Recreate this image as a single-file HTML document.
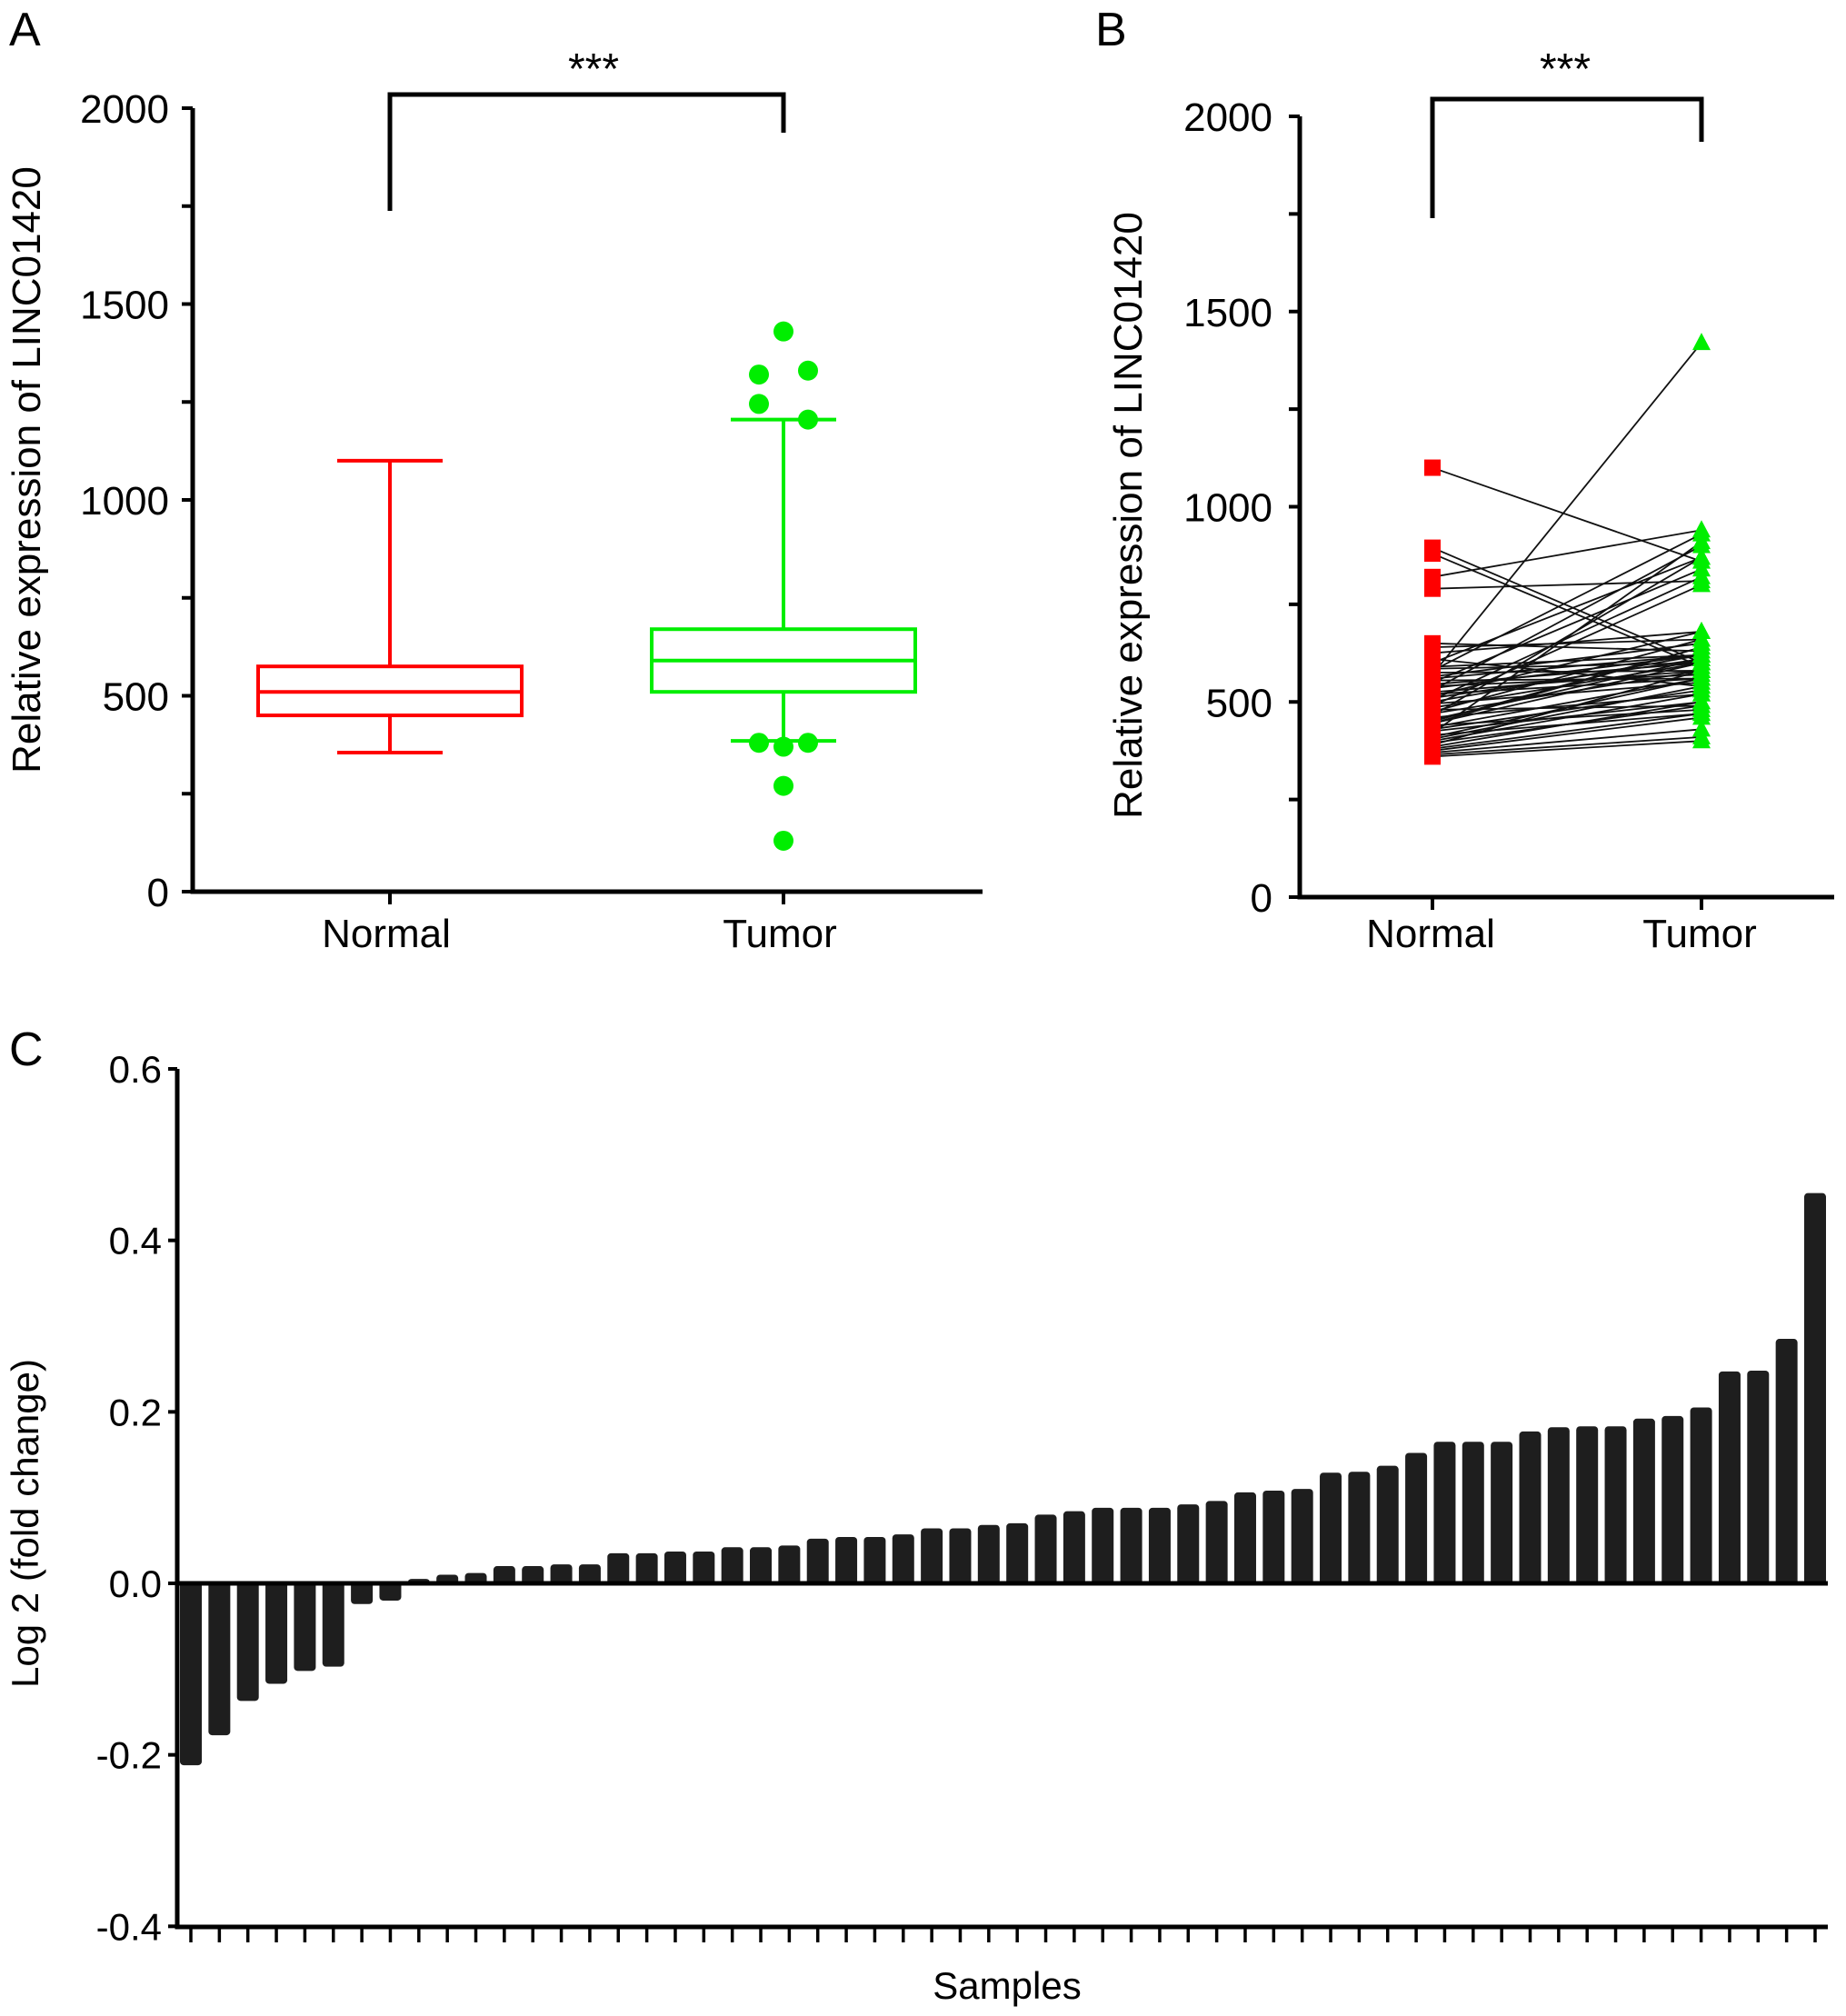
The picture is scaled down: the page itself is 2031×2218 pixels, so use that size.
<!DOCTYPE html>
<html><head><meta charset="utf-8"><style>
html,body{margin:0;padding:0;background:#fff;}
svg{display:block;font-family:"Liberation Sans",Arial,sans-serif;}
</style></head><body>
<svg id="fig" width="2031" height="2218" viewBox="0 0 2031 2218" xmlns="http://www.w3.org/2000/svg">
<rect width="2031" height="2218" fill="#fff"/>
<g id="pa"></g>
<g id="pb"></g>
<g id="pc"></g>
</svg>
<script>
// Panel A box stats
const boxGroups = ["Normal","Tumor"];
const boxMin = [355, 385];
const boxQ1 = [450, 510];
const boxMed = [510, 590];
const boxQ3 = [575, 670];
const boxMax = [1100, 1205];
const tumorOutliers = [1430, 1330, 1320, 1245, 1205, 380, 380, 370, 270, 130];
const tumorOutlierOffset = [0, 1, -1, -1, 1, -1, 1, 0, 0, 0];
const yTicksAB = [0, 500, 1000, 1500, 2000];
// Panel B paired data
const pairNormal = [1100, 895, 880, 820, 790, 650, 640, 625, 610, 600, 590, 585, 580, 575, 570, 565, 560, 555, 550, 545, 540, 535, 530, 525, 520, 515, 510, 505, 500, 495, 490, 485, 480, 475, 470, 465, 460, 455, 450, 445, 440, 435, 430, 425, 420, 415, 410, 405, 400, 395, 390, 385, 380, 375, 370, 365, 360, 445];
const pairTumor = [860, 600, 590, 940, 810, 630, 660, 680, 540, 870, 620, 600, 930, 580, 1420, 650, 620, 560, 840, 600, 570, 620, 900, 580, 560, 680, 610, 820, 620, 550, 800, 600, 490, 660, 580, 870, 520, 610, 640, 600, 480, 560, 530, 500, 910, 470, 560, 540, 520, 490, 580, 500, 470, 460, 430, 410, 400, 640];
// Panel C log2 fold change
const fcValues = [-0.21,-0.175,-0.135,-0.115,-0.1,-0.095,-0.022,-0.018,0.003,0.008,0.01,0.018,0.018,0.02,0.02,0.033,0.033,0.035,0.035,0.04,0.04,0.042,0.05,0.052,0.052,0.055,0.062,0.062,0.066,0.068,0.078,0.082,0.086,0.086,0.086,0.09,0.094,0.104,0.106,0.108,0.127,0.128,0.135,0.15,0.163,0.163,0.163,0.175,0.18,0.181,0.181,0.19,0.193,0.203,0.245,0.246,0.283,0.453];
const yTicksC = [-0.4,-0.2,0.0,0.2,0.4,0.6];

const NS="http://www.w3.org/2000/svg";
function mk(parent,tag,attrs,text){const e=document.createElementNS(NS,tag);for(const k in attrs)e.setAttribute(k,attrs[k]);if(text!==undefined)e.textContent=text;parent.appendChild(e);return e;}

// ---------- Panel A ----------
(function(){
const g=document.getElementById('pa');
const ax=212, y0=981, y1=119, xr=1081;
const ys=v=>y0-(v/2000)*(y0-y1);
const xs=[429,862];
let t;
t=mk(g,'text',{x:10,y:50,'font-size':52});t.textContent='A';


let l=mk(g,'path',{d:`M${ax},${y1} V${y0} H${xr}`,stroke:'#000','stroke-width':5,fill:'none'});


for(let v=0;v<=2000;v+=250){mk(g,'line',{x1:ax-12,x2:ax,y1:ys(v),y2:ys(v),stroke:'#000','stroke-width':4});}
yTicksAB.forEach(v=>{const e=mk(g,'text',{x:186,y:ys(v)+16,'font-size':44,'text-anchor':'end'},String(v));

});
xs.forEach((x,i)=>{mk(g,'line',{x1:x,x2:x,y1:y0,y2:y0+14,stroke:'#000','stroke-width':4});
const e=mk(g,'text',{x:x-4,y:1042,'font-size':44,'text-anchor':'middle'},boxGroups[i]);

});
const ti=mk(g,'text',{transform:`translate(44,517) rotate(-90)`,'font-size':44,'text-anchor':'middle'},'Relative expression of LINC01420');


const cols=['#ff0000','#00ee00'];
xs.forEach((x,i)=>{
 const bg=mk(g,'g',{stroke:cols[i],'stroke-width':4,fill:'none'});
 
 
 const hw=145, cw=58;
 mk(bg,'rect',{x:x-hw,y:ys(boxQ3[i]),width:2*hw,height:ys(boxQ1[i])-ys(boxQ3[i])});
 mk(bg,'line',{x1:x-hw,x2:x+hw,y1:ys(boxMed[i]),y2:ys(boxMed[i])});
 mk(bg,'line',{x1:x,x2:x,y1:ys(boxQ3[i]),y2:ys(boxMax[i])});
 mk(bg,'line',{x1:x,x2:x,y1:ys(boxQ1[i]),y2:ys(boxMin[i])});
 mk(bg,'line',{x1:x-cw,x2:x+cw,y1:ys(boxMax[i]),y2:ys(boxMax[i])});
 mk(bg,'line',{x1:x-cw,x2:x+cw,y1:ys(boxMin[i]),y2:ys(boxMin[i])});
});
tumorOutliers.forEach((v,i)=>{const c=mk(g,'circle',{cx:xs[1]+tumorOutlierOffset[i]*27,cy:ys(v),r:11,fill:'#00ee00'});

});
const br=mk(g,'path',{d:`M${xs[0]},232 V104 H${xs[1]} V146`,stroke:'#000','stroke-width':5,fill:'none'});


const st=mk(g,'text',{x:653,y:92,'font-size':48,'text-anchor':'middle'},'***');


})();

// ---------- Panel B ----------
(function(){
const g=document.getElementById('pb');
const ax=1430, y0=987, y1=128, xr=2018;
const ys=v=>y0-(v/2000)*(y0-y1);
const xs=[1576,1872];
let t=mk(g,'text',{x:1205,y:50,'font-size':52},'B');


let l=mk(g,'path',{d:`M${ax},${y1} V${y0} H${xr}`,stroke:'#000','stroke-width':5,fill:'none'});


for(let v=0;v<=2000;v+=250){mk(g,'line',{x1:ax-12,x2:ax,y1:ys(v),y2:ys(v),stroke:'#000','stroke-width':4});}
yTicksAB.forEach(v=>{const e=mk(g,'text',{x:1400,y:ys(v)+16,'font-size':44,'text-anchor':'end'},String(v));

});
xs.forEach((x,i)=>{mk(g,'line',{x1:x,x2:x,y1:y0,y2:y0+14,stroke:'#000','stroke-width':4});
const e=mk(g,'text',{x:x-2,y:1042,'font-size':44,'text-anchor':'middle'},boxGroups[i]);

});
const ti=mk(g,'text',{transform:`translate(1256,567) rotate(-90)`,'font-size':44,'text-anchor':'middle'},'Relative expression of LINC01420');


pairNormal.forEach((n,i)=>{const e=mk(g,'line',{x1:xs[0],y1:ys(n),x2:xs[1],y2:ys(pairTumor[i]),stroke:'#111','stroke-width':1.8});

});
pairNormal.forEach(n=>{const e=mk(g,'rect',{x:xs[0]-9,y:ys(n)-9,width:18,height:18,fill:'#ff0000'});

});
pairTumor.forEach(v=>{const y=ys(v);const e=mk(g,'polygon',{points:`${xs[1]-10},${y+8} ${xs[1]+10},${y+8} ${xs[1]},${y-11}`,fill:'#00ee00'});

});
const br=mk(g,'path',{d:`M${xs[0]},240 V109 H${xs[1]} V156`,stroke:'#000','stroke-width':5,fill:'none'});


const st=mk(g,'text',{x:1722,y:92,'font-size':48,'text-anchor':'middle'},'***');


})();

// ---------- Panel C ----------
(function(){
const g=document.getElementById('pc');
const ax=195, yTop=1176, yZero=1742, yBot=2120, xr=2011;
const ys=v=>yZero-v*(yZero-yTop)/0.6;
const xStart=210, xEnd=1997, n=fcValues.length;
const xs=i=>xStart+i*(xEnd-xStart)/(n-1);
let t=mk(g,'text',{x:10,y:1172,'font-size':52},'C');


fcValues.forEach((v,i)=>{const y=Math.min(ys(v),yZero),h=Math.abs(ys(v)-yZero);
const e=mk(g,'rect',{x:xs(i)-12,y:y-2,width:24,height:Math.max(h,2)+4,fill:'#1e1e1e',rx:4});

});
const zl=mk(g,'line',{x1:ax,x2:xr,y1:yZero,y2:yZero,stroke:'#000','stroke-width':5});


const axl=mk(g,'path',{d:`M${ax},${yTop} V${yBot} H${xr}`,stroke:'#000','stroke-width':5,fill:'none'});


fcValues.forEach((v,i)=>{mk(g,'line',{x1:xs(i),x2:xs(i),y1:yBot,y2:yBot+17,stroke:'#000','stroke-width':3.5});});
yTicksC.forEach(v=>{mk(g,'line',{x1:ax-10,x2:ax,y1:ys(v),y2:ys(v),stroke:'#000','stroke-width':4});
const e=mk(g,'text',{x:178,y:ys(v)+15,'font-size':42,'text-anchor':'end'},v.toFixed(1));

});
const ti=mk(g,'text',{transform:`translate(42,1676) rotate(-90)`,'font-size':42,'text-anchor':'middle'},'Log 2 (fold change)');


const xt=mk(g,'text',{x:1108,y:2199,'font-size':42,'text-anchor':'middle'},'Samples');


})();
</script>
</body></html>
